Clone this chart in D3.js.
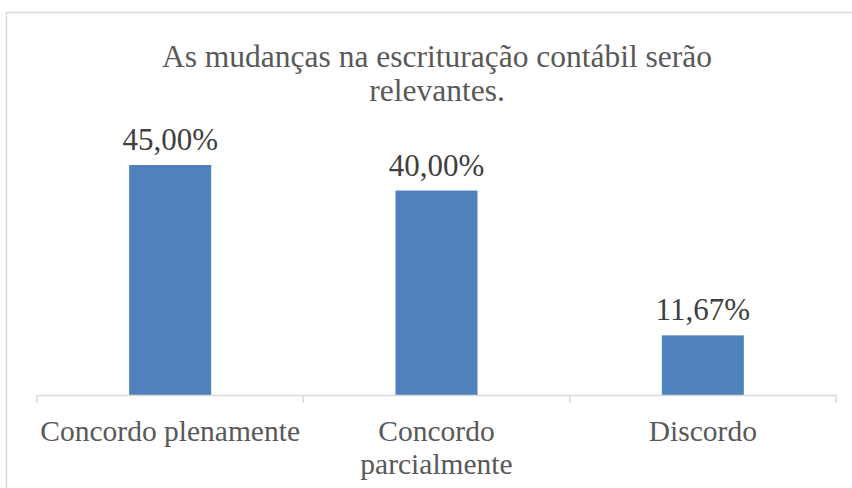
<!DOCTYPE html>
<html>
<head>
<meta charset="utf-8">
<script src="https://cdn.jsdelivr.net/npm/d3@7"></script>
<style>
  body { margin: 0; background: #fff; }
</style>
</head>
<body>
<div id="chart"></div>
<script>
const categories = ['Concordo plenamente', 'Concordo parcialmente', 'Discordo'];
const values = [45.00, 40.00, 11.67];
const valueLabels = ['45,00%', '40,00%', '11,67%'];
const titleLines = ['As mudanças na escrituração contábil serão', 'relevantes.'];
// how the category labels wrap in the picture
const categoryLines = [['Concordo plenamente'], ['Concordo', 'parcialmente'], ['Discordo']];

const width = 852;
const height = 488;
const baseline = 395;
const font = "'Liberation Serif'";

const svg = d3.select('#chart')
  .append('svg')
  .attr('width', width)
  .attr('height', height);

// chart area border (only top and left are visible in the crop)
svg.append('rect')
  .attr('x', 6.5)
  .attr('y', 12.5)
  .attr('width', 900)
  .attr('height', 600)
  .attr('fill', 'none')
  .attr('stroke', '#d9d9d9')
  .attr('stroke-width', 1.5);

svg.append('g')
  .selectAll('text')
  .data(titleLines)
  .enter()
  .append('text')
  .attr('x', 437)
  .attr('y', (d, i) => 67 + i * 34)
  .attr('text-anchor', 'middle')
  .attr('font-family', font)
  .attr('font-size', 31.5)
  .attr('fill', '#595959')
  .text(d => d);

const x = d3.scaleBand().domain(categories).range([37, 836]).paddingInner(0).paddingOuter(0);
const y = d3.scaleLinear().domain([0, 45]).range([baseline, 165]);

const barWidth = 82;

svg.selectAll('rect.bar')
  .data(categories)
  .enter()
  .append('rect')
  .attr('class', 'bar')
  .attr('x', d => x(d) + x.bandwidth() / 2 - barWidth / 2)
  .attr('width', barWidth)
  .attr('y', (d, i) => y(values[i]))
  .attr('height', (d, i) => baseline - y(values[i]))
  .attr('fill', '#4f81bd');

svg.selectAll('text.label')
  .data(valueLabels)
  .enter()
  .append('text')
  .attr('class', 'label')
  .attr('x', (d, i) => x(categories[i]) + x.bandwidth() / 2)
  .attr('y', (d, i) => y(values[i]) - 15)
  .attr('text-anchor', 'middle')
  .attr('font-family', font)
  .attr('font-size', 31)
  .attr('fill', '#404040')
  .text(d => d);

// x axis
const axis = svg.append('g')
  .attr('transform', `translate(0, ${baseline})`)
  .call(d3.axisBottom(x).tickSize(0).tickFormat(''));
axis.select('.domain').attr('stroke', '#d9d9d9').attr('stroke-width', 1.5);

const tickXs = categories.map(c => x(c)).concat([x.range()[1]]);
svg.append('g')
  .selectAll('line')
  .data(tickXs)
  .enter()
  .append('line')
  .attr('x1', d => d)
  .attr('x2', d => d)
  .attr('y1', baseline)
  .attr('y2', baseline + 8)
  .attr('stroke', '#d9d9d9')
  .attr('stroke-width', 1.5);

categoryLines.forEach((lines, i) => {
  svg.append('text')
    .attr('text-anchor', 'middle')
    .attr('x', x(categories[i]) + x.bandwidth() / 2)
    .attr('y', 441)
    .attr('font-family', font)
    .attr('font-size', 29.5)
    .attr('fill', '#595959')
    .selectAll('tspan')
    .data(lines)
    .enter()
    .append('tspan')
    .attr('x', x(categories[i]) + x.bandwidth() / 2)
    .attr('dy', (d, j) => j === 0 ? 0 : 33)
    .text(d => d);
});
</script>
</body>
</html>
